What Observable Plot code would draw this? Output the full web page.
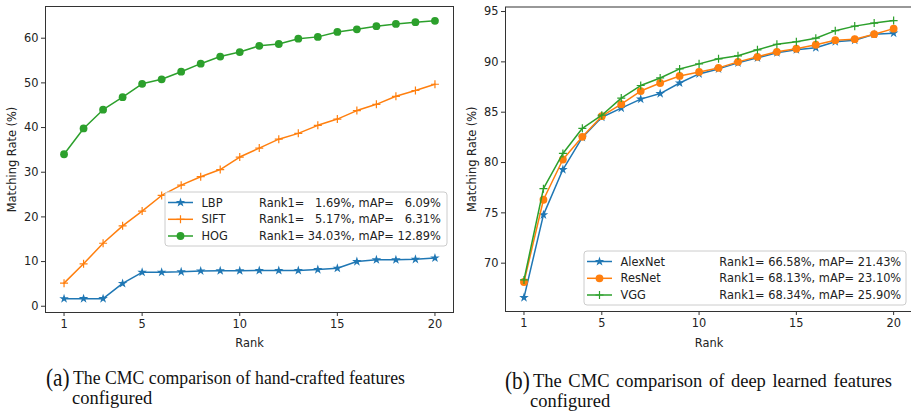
<!DOCTYPE html>
<html><head><meta charset="utf-8">
<script src="https://cdn.jsdelivr.net/npm/d3@7"></script>
<script src="https://cdn.jsdelivr.net/npm/@observablehq/plot@0.6"></script>
<style>
html,body{margin:0;padding:0;background:#fff;}
body{width:911px;height:412px;overflow:hidden;position:relative;font-family:"DejaVu Sans",sans-serif;}
.chart{position:absolute;top:0;}
.legend{position:absolute;}
.cap{position:absolute;font-family:"Liberation Serif",serif;color:#111;font-size:18.5px;line-height:18.5px;white-space:nowrap;transform-origin:left center;}
.cap .big{display:inline-block;font-size:25px;transform:scaleX(0.85);transform-origin:left center;}
</style>
</head><body>
<script>
// ---------- data ----------
const ranks = [1,2,3,4,5,6,7,8,9,10,11,12,13,14,15,16,17,18,19,20];
const lbp  = [1.69,1.7,1.7,5.1,7.6,7.6,7.7,7.9,7.95,7.95,8.0,8.0,8.0,8.2,8.5,10.0,10.4,10.4,10.5,10.8];
const sift = [5.17,9.5,14.1,18.0,21.3,24.8,27.1,29.0,30.6,33.4,35.4,37.4,38.7,40.5,41.9,43.8,45.2,47.0,48.3,49.7];
const hog  = [34.03,39.8,44.0,46.8,49.8,50.8,52.5,54.3,55.9,56.9,58.3,58.7,59.9,60.3,61.4,62.0,62.7,63.2,63.6,63.9];
const alexnet = [66.58,74.8,79.3,82.5,84.5,85.4,86.3,86.85,87.9,88.8,89.3,89.9,90.4,90.9,91.2,91.4,92.0,92.15,92.75,92.85];
const resnet  = [68.13,76.3,80.3,82.55,84.6,85.8,87.1,87.9,88.6,89.0,89.4,90.0,90.5,91.0,91.3,91.7,92.15,92.25,92.75,93.3];
const vgg     = [68.34,77.4,80.9,83.4,84.7,86.4,87.65,88.4,89.3,89.8,90.3,90.6,91.2,91.75,92.0,92.35,93.1,93.55,93.85,94.1];
const xTicks = [1,5,10,15,20];
const leftYTicks = [0,10,20,30,40,50,60];
const rightYTicks = [70,75,80,85,90,95];
const leftNames = ["LBP","SIFT","HOG"];
const leftRank1 = [1.69,5.17,34.03];
const leftMAP = [6.09,6.31,12.89];
const rightNames = ["AlexNet","ResNet","VGG"];
const rightRank1 = [66.58,68.13,68.34];
const rightMAP = [21.43,23.10,25.90];
const xLabel = "Rank";
const yLabel = "Matching Rate (%)";
const captionA = ["(a)", "The CMC comparison of hand-crafted features", "configured"];
const captionB = ["(b)", "The CMC comparison of deep learned features", "configured"];

// ---------- styles ----------
const colors = ["#1f77b4","#ff7f0e","#2ca02c"];
const leftSymbols = ["star","plus","circle"];
const rightSymbols = ["star","circle","plus"];
const FONT = "11.4px";

function symbolSize(sym){ return sym === "circle" ? 3.9 : sym === "star" ? 3.0 : 2.7; }

function chart(opts){
  const marks = [];
  opts.series.forEach((vals, i) => {
    const rows = vals.map((v, j) => ({rank: ranks[j], value: v}));
    marks.push(Plot.line(rows, {x: "rank", y: "value", stroke: colors[i], strokeWidth: 1.5}));
    const sym = opts.symbols[i];
    const dotOpts = {x: "rank", y: "value", symbol: sym, r: symbolSize(sym)};
    if (sym === "plus") { dotOpts.stroke = colors[i]; dotOpts.strokeWidth = 1.2; dotOpts.fill = "none"; }
    else { dotOpts.fill = colors[i]; dotOpts.stroke = "none"; }
    marks.push(Plot.dot(rows, dotOpts));
  });
  const p = Plot.plot({
    width: opts.width, height: 352,
    marginLeft: 45, marginRight: opts.marginRight, marginTop: opts.marginTop, marginBottom: opts.marginBottom,
    style: {fontFamily: "DejaVu Sans", fontSize: FONT, color: "#222", background: "transparent", overflow: "visible"},
    x: {domain: opts.xDomain},
    y: {domain: opts.yDomain},
    marks: [
      Plot.axisX({ticks: xTicks, tickSize: 4, tickPadding: 3, tickFormat: d => String(d), label: xLabel, labelAnchor: "center", labelArrow: "none", labelOffset: opts.xLabelOffset, stroke: "#333"}),
      Plot.axisY({ticks: opts.yTicks, tickSize: 4, tickPadding: 3, tickFormat: d => String(d), label: yLabel, labelAnchor: "center", labelArrow: "none", labelOffset: 38, stroke: "#333"}),
      ...marks,
      Plot.frame({stroke: "#333", strokeWidth: 1})
    ]
  });
  p.classList.add("chart");
  p.style.left = opts.left + "px";
  document.body.appendChild(p);
}

chart({series: [lbp, sift, hog], symbols: leftSymbols, yDomain: [-1.4, 67.1], yTicks: leftYTicks,
       width: 458, marginRight: 5, marginTop: 6, marginBottom: 40, xLabelOffset: 34, xDomain: [0.05, 20.95], left: 0});
chart({series: [alexnet, resnet, vgg], symbols: rightSymbols, yDomain: [65.2, 95.45], yTicks: rightYTicks,
       width: 451, marginRight: -1, marginTop: 6.5, marginBottom: 41, xLabelOffset: 35, xDomain: [0.05, 20.97], left: 460});

// ---------- legends ----------
function fmt(v){ return (v < 10 ? "  " : "") + v.toFixed(2); }
function legend(o){
  const W = o.w, H = 54;
  const svg = d3.create("svg").attr("class","legend").attr("width", W+2).attr("height", H+2)
    .style("left", (o.x-1)+"px").style("top", (o.y-1)+"px");
  svg.append("rect").attr("x",1).attr("y",1).attr("width",W).attr("height",H).attr("rx",3)
    .attr("fill","rgba(255,255,255,0.8)").attr("stroke","#cccccc").attr("stroke-width",1);
  const rowY = [10.5, 27.3, 44];
  o.names.forEach((n,i) => {
    const g = svg.append("g").attr("transform", `translate(1,${rowY[i]+1})`);
    g.append("line").attr("x1",3).attr("x2",28).attr("y1",0).attr("y2",0).attr("stroke",colors[i]).attr("stroke-width",1.5);
    const sym = o.symbols[i];
    const r = symbolSize(sym);
    const type = sym === "star" ? d3.symbolStar : sym === "circle" ? d3.symbolCircle : d3.symbolPlus;
    const path = g.append("path").attr("transform","translate(15.5,0)")
      .attr("d", d3.symbol(type, Math.PI * r * r)());
    if (sym === "plus") path.attr("fill","none").attr("stroke",colors[i]).attr("stroke-width",1.2);
    else path.attr("fill",colors[i]);
    g.append("text").attr("x",36.5).attr("y",0).attr("dy","0.36em").attr("font-size",FONT).attr("fill","#222")
      .attr("font-family","DejaVu Sans").text(n);
    g.append("text").attr("x",o.statX).attr("y",0).attr("dy","0.36em").attr("font-size",FONT).attr("fill","#222")
      .attr("font-family","DejaVu Sans").style("white-space","pre")
      .text(`Rank1= ${fmt(o.rank1[i])}%, mAP= ${fmt(o.map[i])}%`);
  });
  document.body.appendChild(svg.node());
}
legend({x:165, y:191.5, w:282, names:leftNames, symbols:leftSymbols, rank1:leftRank1, map:leftMAP, statX:94});
legend({x:584, y:251, w:322, names:rightNames, symbols:rightSymbols, rank1:rightRank1, map:rightMAP, statX:135.3});

// ---------- captions ----------
function caption(c, x, base1, textX, endX, base2, x2){
  const fs = 18.5, baseOff = fs * 0.837;
  const l1 = document.createElement("div");
  l1.className = "cap";
  l1.style.left = x + "px"; l1.style.top = (base1 - baseOff) + "px";
  l1.innerHTML = `<span class="big">${c[0]}</span>`;
  document.body.appendChild(l1);
  const t1 = document.createElement("div");
  t1.className = "cap";
  t1.style.left = textX + "px"; t1.style.top = (base1 - baseOff) + "px";
  t1.textContent = c[1];
  document.body.appendChild(t1);
  const natural = t1.getBoundingClientRect().width;
  const target = endX - textX;
  if (natural > target) {
    t1.style.transform = `scaleX(${target / natural})`;
  } else {
    const gaps = c[1].split(" ").length - 1;
    t1.style.wordSpacing = ((target - natural) / gaps) + "px";
  }
  const l2 = document.createElement("div");
  l2.className = "cap";
  l2.style.left = x2 + "px"; l2.style.top = (base2 - baseOff) + "px";
  l2.textContent = c[2];
  document.body.appendChild(l2);
}
caption(captionA, 46, 384, 73, 405, 404, 72);
caption(captionB, 505, 387, 533, 892, 407, 530);
</script>
</body></html>
